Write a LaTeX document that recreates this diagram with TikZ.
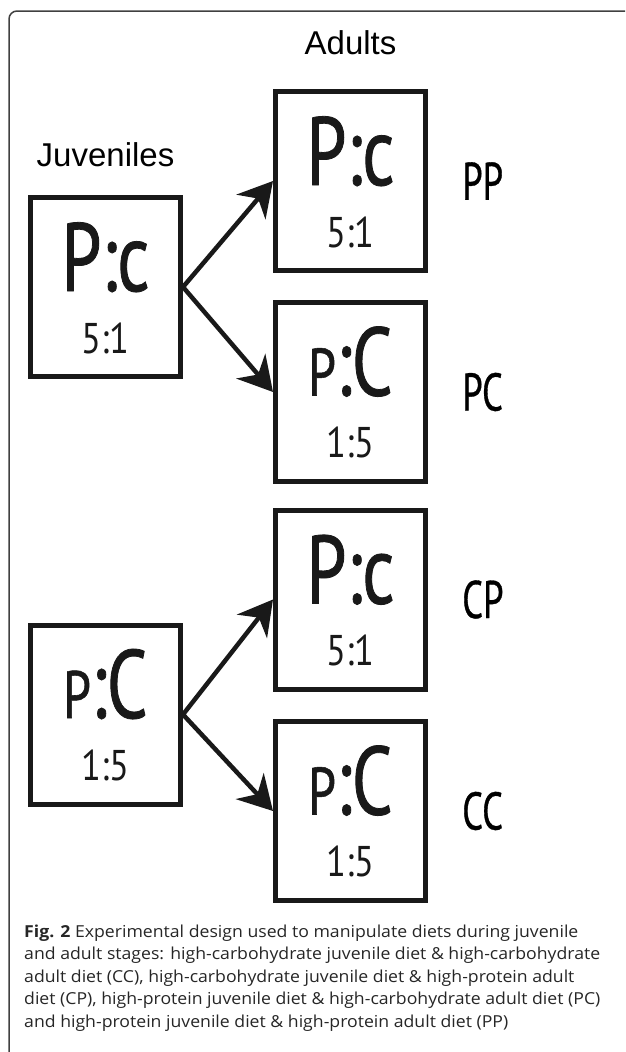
\documentclass[tikz,border=0pt]{standalone}
\usepackage{fontspec}
\setmainfont[FakeStretch=1.07]{Open Sans}
\newfontfamily\headfont{Liberation Sans}
\newfontfamily\ratiofont[FakeStretch=0.74, FakeBold=0.8]{PT Sans}
\newfontfamily\numfont[FakeStretch=0.85]{PT Sans}
\newfontfamily\groupfont[FakeStretch=0.69, FakeBold=0.6]{PT Sans}
\usetikzlibrary{arrows.meta, positioning}
\tikzset{
	diet/.style = {rectangle, draw = black!90, line width = 5pt, minimum width = 150pt, minimum height = 179pt, inner sep = 0pt},
	big/.style = {anchor = base, inner sep = 0pt, text = black!90, font = \ratiofont\fontsize{97}{97}\selectfont},
	small/.style = {anchor = base, inner sep = 0pt, text = black!90, font = \numfont\fontsize{43}{43}\selectfont},
	stage/.style = {inner sep = 0pt, font = \headfont\fontsize{33}{33}\selectfont},
	group/.style = {inner sep = 0pt, font = \groupfont\fontsize{53}{53}\selectfont},
	capt/.style = {anchor = base west, inner sep = 0pt, align = left, text = black!85, font = \fontsize{16.5}{22.5}\selectfont},
	arrow/.style = {-{Stealth[length = 34pt, width = 38pt, inset = 11pt]}, draw = black!90, line width = 4.5pt}
}
\newcommand{\smallP}{{\fontsize{67}{67}\selectfont P}}

\begin{document}
\begin{tikzpicture}[x = 1pt, y = -1pt]
	\useasboundingbox (0,0) rectangle (625,1052);
	
	%% frame (only the top and left edge are inside the picture)
	\draw [line width = 1.5pt, black!75, rounded corners = 8pt] (9,1052) -- (9,11) -- (625,11);
	
	%% boxes
	\node (juvP) [diet] at (105.5,287) {};
	\node (juvC) [diet] at (105.5,714.5) {};
	\node (adPP) [diet] at (350.5,181) {};
	\node (adPC) [diet] at (350.5,392) {};
	\node (adCP) [diet] at (350.5,599.5) {};
	\node (adCC) [diet] at (350.5,811) {};
	
	%% ratios
	\node (juvPtop) [big] at ([yshift = -4pt]juvP.center) {P:c};
	\node (juvPbot) [small] at ([yshift = -66pt]juvP.center) {5:1};
	\node (juvCtop) [big] at ([yshift = -3.5pt]juvC.center) {\smallP:C};
	\node (juvCbot) [small] at ([yshift = -65.5pt]juvC.center) {1:5};
	\node (adPPtop) [big] at ([yshift = -4pt]adPP.center) {P:c};
	\node (adPPbot) [small] at ([yshift = -66pt]adPP.center) {5:1};
	\node (adPCtop) [big] at ([yshift = -3.5pt]adPC.center) {\smallP:C};
	\node (adPCbot) [small] at ([yshift = -65.5pt]adPC.center) {1:5};
	\node (adCPtop) [big] at ([yshift = -4pt]adCP.center) {P:c};
	\node (adCPbot) [small] at ([yshift = -66pt]adCP.center) {5:1};
	\node (adCCtop) [big] at ([yshift = -3.5pt]adCC.center) {\smallP:C};
	\node (adCCbot) [small] at ([yshift = -65.5pt]adCC.center) {1:5};
	
	%% headings and groups
	\node (adults) [stage, above = 34pt of adPP] {Adults};
	\node (juveniles) [stage, above = 28pt of juvP] {Juveniles};
	\node (lblPP) [group, right = 34pt of adPP] {PP};
	\node (lblPC) [group, right = 34pt of adPC] {PC};
	\node (lblCP) [group, right = 34pt of adCP] {CP};
	\node (lblCC) [group, right = 34pt of adCC] {CC};
	
	%% arrows
	\draw [arrow] (juvP.east) -- (adPP.west);
	\draw [arrow] (juvP.east) -- (adPC.west);
	\draw [arrow] (juvC.east) -- (adCP.west);
	\draw [arrow] (juvC.east) -- (adCC.west);
	
	%% caption (base = last line)
	\node (caption) [capt] at (24,1027) {\textbf{Fig. 2} Experimental design used to manipulate diets during juvenile\\
		and adult stages: high-carbohydrate juvenile diet \& high-carbohydrate\\
		adult diet (CC), high-carbohydrate juvenile diet \& high-protein adult\\
		diet (CP), high-protein juvenile diet \& high-carbohydrate adult diet (PC)\\
		and high-protein juvenile diet \& high-protein adult diet (PP)};
\end{tikzpicture}
\end{document}
